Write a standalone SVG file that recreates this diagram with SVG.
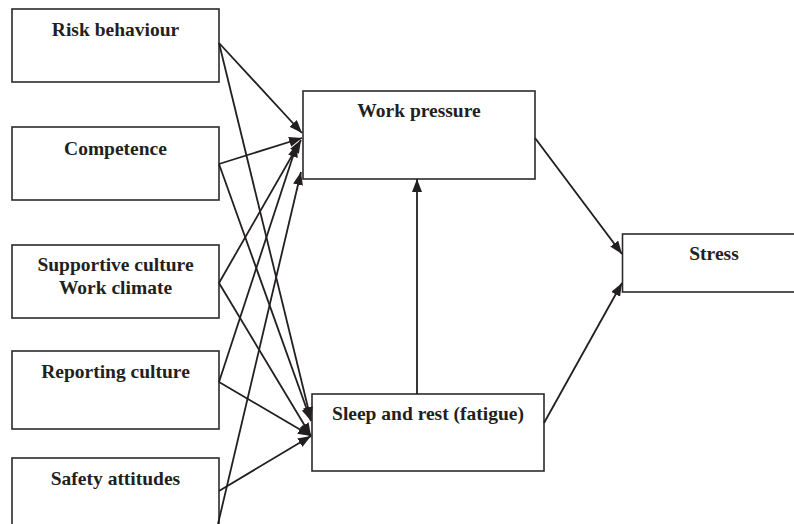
<svg xmlns="http://www.w3.org/2000/svg" width="794" height="524" viewBox="0 0 794 524">
<style>
.box{fill:#fff;stroke:#2b2b2b;stroke-width:1.6}
.lbl{font-family:"Liberation Serif","Times New Roman",serif;font-weight:bold;font-size:19.5px;fill:#231f20;text-anchor:middle}
.conn line{stroke:#231f20;stroke-width:1.8;marker-end:url(#ah)}
</style>
<defs>
<marker id="ah" markerUnits="userSpaceOnUse" markerWidth="14" markerHeight="11" refX="13" refY="5" orient="auto">
<path d="M0,0 L13,5 L0,10 z" fill="#231f20"/>
</marker>
</defs>
<rect width="794" height="524" fill="#fff"/>
<g id="risk"><rect class="box" x="12" y="9" width="207" height="73"/><text class="lbl" x="115.5" y="35.5">Risk behaviour</text></g>
<g id="competence"><rect class="box" x="12" y="127" width="207" height="73"/><text class="lbl" x="115.5" y="154.5">Competence</text></g>
<g id="supportive"><rect class="box" x="12" y="245" width="207" height="73"/><text class="lbl" x="115.5" y="271">Supportive culture</text><text class="lbl" x="115.5" y="293.5">Work climate</text></g>
<g id="reporting"><rect class="box" x="12" y="351" width="207" height="78"/><text class="lbl" x="115.5" y="378">Reporting culture</text></g>
<g id="safety"><rect class="box" x="12" y="458" width="207" height="80"/><text class="lbl" x="115.5" y="484.5">Safety attitudes</text></g>
<g id="workpressure"><rect class="box" x="303" y="91" width="232" height="88"/><text class="lbl" x="419" y="117">Work pressure</text></g>
<g id="sleep"><rect class="box" x="312" y="394" width="232" height="77"/><text class="lbl" x="428" y="420">Sleep and rest (fatigue)</text></g>
<g id="stress"><rect class="box" x="622.5" y="234" width="190" height="58"/><text class="lbl" x="714" y="260">Stress</text></g>
<g class="conn" id="connectors">
<line x1="219" y1="43" x2="302" y2="133"/>
<line x1="219" y1="164" x2="302" y2="138"/>
<line x1="219" y1="283" x2="301" y2="140"/>
<line x1="219" y1="382" x2="297" y2="144"/>
<line x1="218" y1="524" x2="301" y2="172"/>
<line x1="219" y1="43" x2="311" y2="420"/>
<line x1="219" y1="164" x2="311" y2="421"/>
<line x1="219" y1="283" x2="311" y2="436"/>
<line x1="219" y1="382" x2="311" y2="436"/>
<line x1="219" y1="491" x2="311" y2="436"/>
<line x1="417" y1="394" x2="417" y2="179"/>
<line x1="535" y1="138" x2="622" y2="254"/>
<line x1="544" y1="423" x2="622" y2="283"/>
</g>
</svg>
